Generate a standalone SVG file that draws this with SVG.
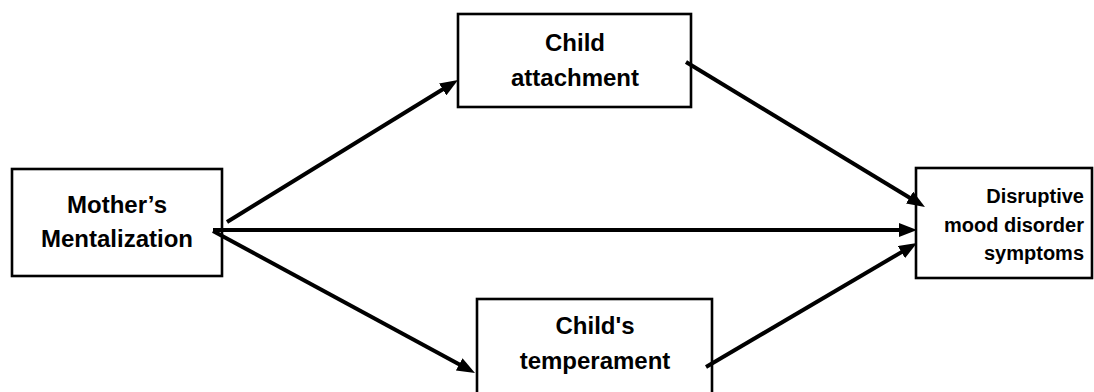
<svg xmlns="http://www.w3.org/2000/svg" width="1094" height="392" viewBox="0 0 1094 392">
<style>
.box{fill:#fff;stroke:#000;stroke-width:2.6}
.t{font-family:"Liberation Sans",Arial,sans-serif;font-weight:bold;font-size:24px;fill:#000;text-anchor:middle}
.s{font-family:"Liberation Sans",Arial,sans-serif;font-weight:bold;font-size:20px;fill:#000;text-anchor:end}
.c{stroke:#000;stroke-width:4;fill:none;marker-end:url(#ah)}
</style>
<defs>
<marker id="ah" markerUnits="userSpaceOnUse" markerWidth="18" markerHeight="14" refX="4" refY="7" orient="auto">
<path d="M0,0 L18,7 L0,14 z" fill="#000"/>
</marker>
</defs>
<rect width="1094" height="392" fill="#fff"/>
<g id="mother">
<rect class="box" x="12" y="169" width="210" height="107"/>
<text class="t" x="117" y="213">Mother’s</text>
<text class="t" x="117" y="247">Mentalization</text>
</g>
<g id="attachment">
<rect class="box" x="458" y="14" width="233" height="93"/>
<text class="t" x="575" y="51">Child</text>
<text class="t" x="575" y="86">attachment</text>
</g>
<g id="temperament">
<rect class="box" x="477" y="299" width="235" height="100"/>
<text class="t" x="595" y="334">Child's</text>
<text class="t" x="595" y="369">temperament</text>
</g>
<g id="disruptive">
<rect class="box" x="916" y="168" width="176" height="110"/>
<text class="s" x="1084" y="203">Disruptive</text>
<text class="s" x="1084" y="232">mood disorder</text>
<text class="s" x="1084" y="260">symptoms</text>
</g>
<g id="connectors">
<line class="c" x1="227" y1="222" x2="446.1" y2="87.3"/>
<line class="c" x1="213" y1="230" x2="903" y2="230"/>
<line class="c" x1="213" y1="231" x2="462.7" y2="366.3"/>
<line class="c" x1="686" y1="62" x2="913" y2="199.7"/>
<line class="c" x1="706" y1="367" x2="904.9" y2="250.1"/>
</g>
</svg>
